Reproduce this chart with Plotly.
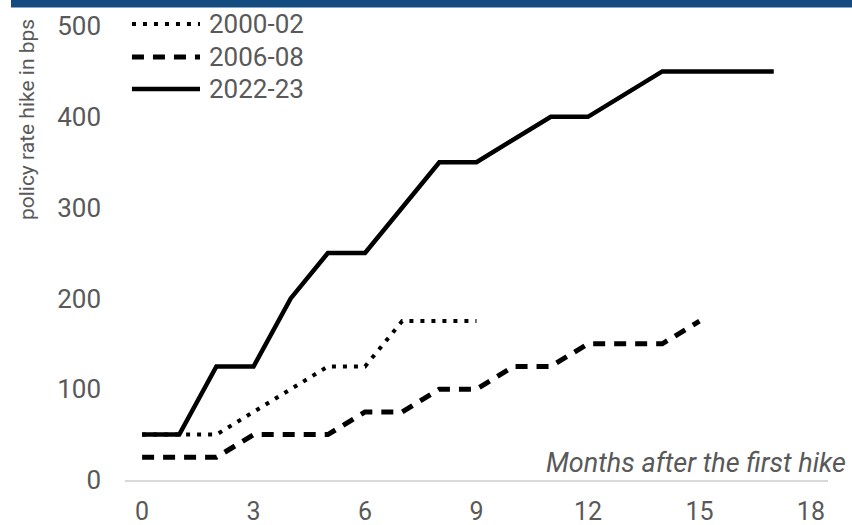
import plotly.graph_objects as go

months_a = [0, 1, 2, 3, 4, 5, 6, 7, 8, 9]
hike_2000_02 = [50, 50, 50, 75, 100, 125, 125, 175, 175, 175]
months_b = list(range(16))
hike_2006_08 = [25, 25, 25, 50, 50, 50, 75, 75, 100, 100, 125, 125, 150, 150, 150, 175]
months_c = list(range(18))
hike_2022_23 = [50, 50, 125, 125, 200, 250, 250, 300, 350, 350, 375, 400, 400, 425, 450, 450, 450, 450]

series_names = ["2000-02", "2006-08", "2022-23"]
x_ticks = [0, 3, 6, 9, 12, 15, 18]
y_ticks = [0, 100, 200, 300, 400, 500]

GRAY = "#595959"
FONT = "Roboto, Open Sans, sans-serif"

styles = [
    dict(color="black", width=4, dash="4px,7px"),
    dict(color="black", width=5, dash="12px,9px"),
    dict(color="black", width=4.5, dash="solid"),
]

fig = go.Figure()
for name, xs, ys, st in zip(series_names, [months_a, months_b, months_c],
                            [hike_2000_02, hike_2006_08, hike_2022_23], styles):
    fig.add_trace(go.Scatter(x=xs, y=ys, mode="lines", name=name, line=st,
                             showlegend=False))

# Manual legend (long samples like the original)
leg_y = [1.0044, 0.9317, 0.8612]
for name, st, yy in zip(series_names, styles, leg_y):
    fig.add_shape(type="line", xref="paper", yref="paper", x0=0.0099, x1=0.1067,
                  y0=yy, y1=yy, line=st)
    fig.add_annotation(text=name, xref="paper", yref="paper", x=0.116, y=yy,
                       xanchor="left", yanchor="middle", showarrow=False,
                       font=dict(family=FONT, size=26, color=GRAY))

# Top blue band
fig.add_shape(type="rect", xref="paper", yref="paper", x0=-0.1622, x1=1.04,
              y0=1.041, y1=1.07, fillcolor="#134A80", line=dict(width=0), layer="above")

fig.add_annotation(text="policy rate hike in bps", xref="paper", yref="paper",
                   x=-0.14, y=0.794, textangle=-90, showarrow=False,
                   xanchor="center", yanchor="middle",
                   font=dict(family=FONT, size=21, color=GRAY))
fig.add_annotation(text="Months after the first hike", xref="paper", yref="paper",
                   x=1.029, y=0.0374, xanchor="right", yanchor="middle", showarrow=False,
                   font=dict(family=FONT, size=27, color=GRAY, style="italic"))

fig.update_layout(
    width=852, height=525,
    margin=dict(l=125, r=24, t=26, b=45),
    paper_bgcolor="white", plot_bgcolor="white",
    xaxis=dict(range=[-0.46, 18.46], tickvals=x_ticks, showgrid=False, zeroline=False,
               showline=True, linecolor="#D9D9D9", linewidth=1.5,
               ticks="", ticklabelstandoff=8, automargin=False,
               tickfont=dict(family=FONT, size=25, color=GRAY)),
    yaxis=dict(range=[0, 500], tickvals=y_ticks, showgrid=False, zeroline=False,
               showline=False, ticks="", ticklabelstandoff=23, automargin=False,
               tickfont=dict(family=FONT, size=26, color=GRAY)),
)

fig.write_html("out.html", config={"displayModeBar": False},
               post_script="document.body.style.margin='0';")
